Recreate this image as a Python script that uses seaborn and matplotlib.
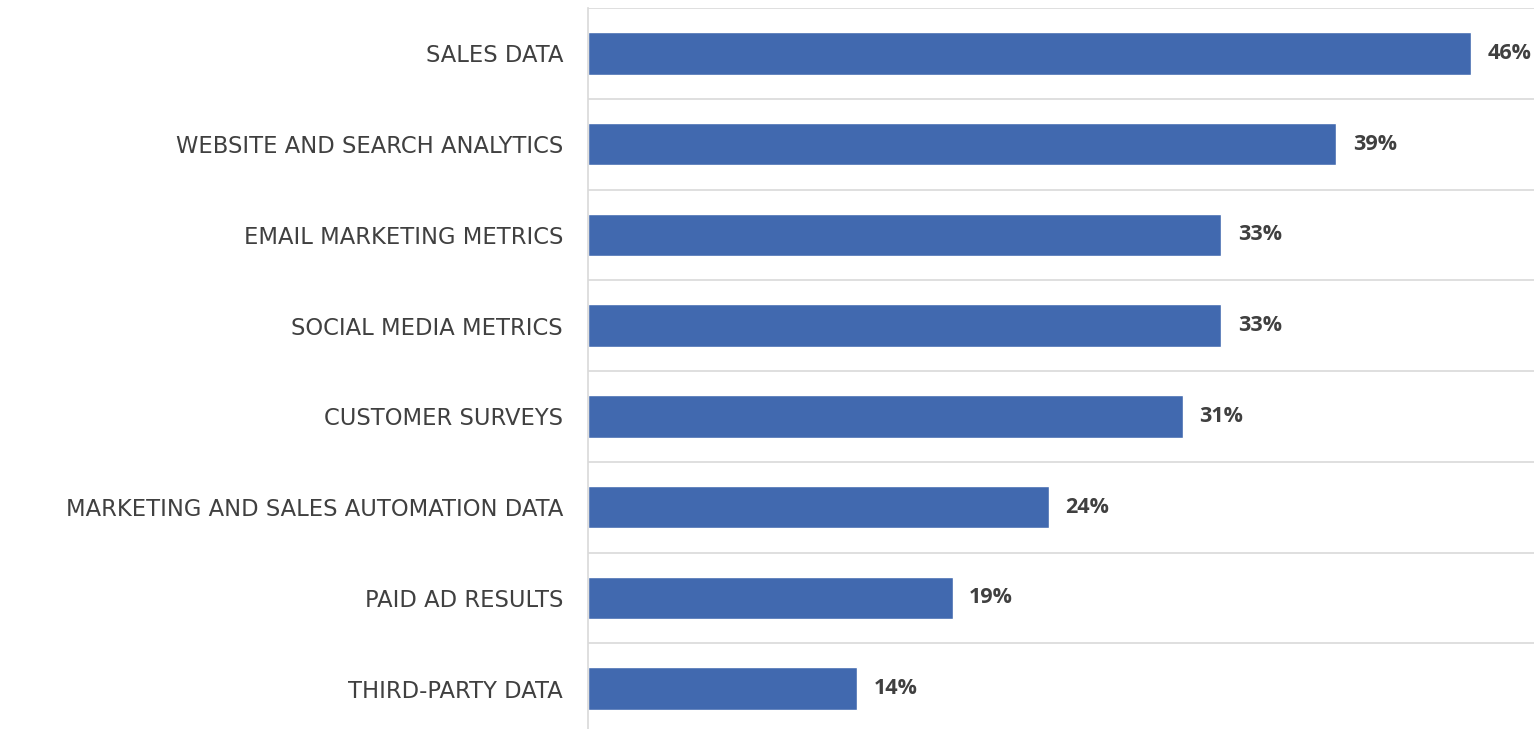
import matplotlib
matplotlib.use('Agg')
import pandas as pd
import matplotlib.pyplot as plt
import seaborn as sns

categories = ['SALES DATA', 'WEBSITE AND SEARCH ANALYTICS', 'EMAIL MARKETING METRICS',
              'SOCIAL MEDIA METRICS', 'CUSTOMER SURVEYS', 'MARKETING AND SALES AUTOMATION DATA',
              'PAID AD RESULTS', 'THIRD-PARTY DATA']
values = [46, 39, 33, 33, 31, 24, 19, 14]
value_labels = ['46%', '39%', '33%', '33%', '31%', '24%', '19%', '14%']

df = pd.DataFrame({'category': categories, 'value': values})

sns.set_style('white')

fig = plt.figure(figsize=(15.34, 7.29), dpi=100)
ax = fig.add_axes([588 / 1534, -5 / 729, 946 / 1534, 726 / 729])

sns.barplot(data=df, y='category', x='value', orient='h', color='#4169AF',
            saturation=1, width=0.47, ax=ax)

ax.set_xlim(0, 49.3)
ax.set_ylim(len(categories) - 0.5, -0.5)

# value labels
ax.bar_label(ax.containers[0], labels=value_labels, padding=12,
             fontsize=15.5, fontweight='bold', color='#404040', family='Open Sans')

# gridlines between categories
ax.set_yticks([i + 0.5 for i in range(-1, len(categories))], minor=True)
ax.grid(which='minor', axis='y', color='#d9d9d9', linewidth=1.2)
ax.tick_params(which='both', length=0)
ax.tick_params(axis='y', pad=18, labelsize=16.3, labelcolor='#404040')
for lab in ax.get_yticklabels():
    lab.set_family('DejaVu Sans')

ax.set_xticks([])
ax.set_xlabel('')
ax.set_ylabel('')
for s in ['top', 'right', 'bottom']:
    ax.spines[s].set_visible(False)
ax.spines['left'].set_color('#d9d9d9')
ax.spines['left'].set_linewidth(1.2)

fig.savefig('out.png', dpi=100)
